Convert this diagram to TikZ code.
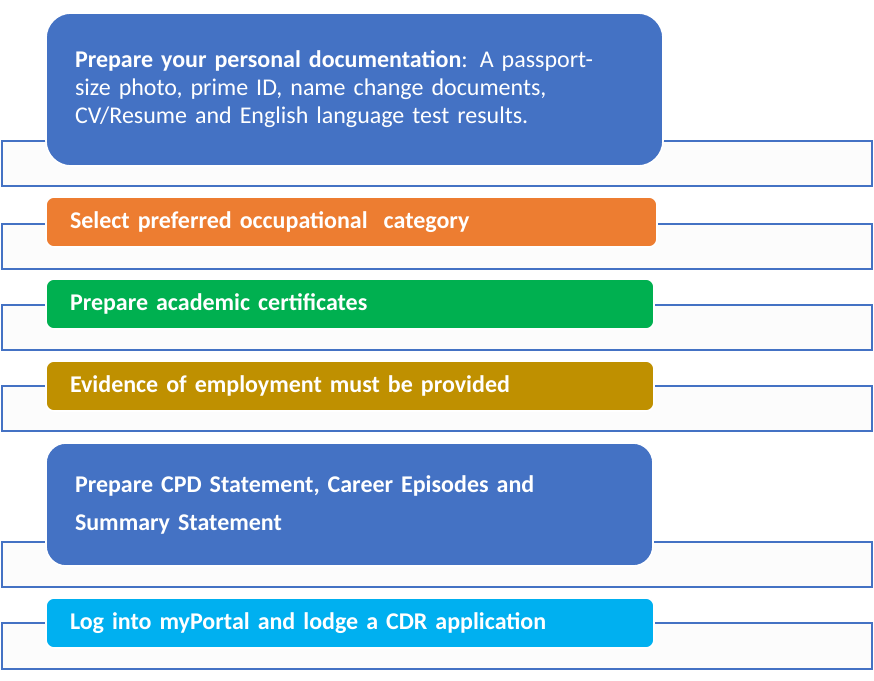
\documentclass[tikz,border=0pt]{standalone}
\usepackage{fontspec}
\setmainfont{Carlito}
\definecolor{stepblue}{HTML}{4472C4}
\definecolor{steporange}{HTML}{ED7D31}
\definecolor{stepgreen}{HTML}{00B050}
\definecolor{stepgold}{HTML}{BF9000}
\definecolor{stepcyan}{HTML}{00B0F0}
\definecolor{railfill}{HTML}{FCFCFC}
\tikzset{
  rail/.style = {draw = stepblue, fill = railfill, line width = 1.5pt,
    minimum width = 652.5pt, minimum height = 33.75pt, inner sep = 0pt},
  stepbox/.style = {draw = white, line width = 1.2pt, text = white,
    rounded corners = 6pt, minimum height = 37.5pt, inner ysep = 0pt,
    inner xsep = 18pt, align = left, font = \fontsize{18}{21}\selectfont\bfseries},
  bigbox/.style = {stepbox, fill = stepblue, inner xsep = 21.75pt}
}
\begin{document}
\begin{tikzpicture}[x = 0.75pt, y = -0.75pt]
	\useasboundingbox (0, 0) rectangle (874, 681);
	% Rails
	\node[rail] (r1) at (437, 163.5) {};
	\node[rail] (r2) at (437, 246.5) {};
	\node[rail] (r3) at (437, 327.5) {};
	\node[rail] (r4) at (437, 408.5) {};
	\node[rail] (r5) at (437, 564.5) {};
	\node[rail, minimum height = 34.5pt] (r6) at (437, 646) {};
	
	% Steps
	\node[bigbox, rounded corners = 18.75pt, minimum height = 114.75pt, text width = 419.25pt] (docs) at (354.5, 89.5)
		{Prepare your personal documentation\textmd{: A passport-}\\
		 \textmd{size photo, prime ID, name change documents,}\\
		 \textmd{CV/Resume and English language test results.}};
	\node[stepbox, fill = steporange, text width = 422.25pt] (cat) at (351.5, 222)
		{Select preferred occupational\ \ category};
	\node[stepbox, fill = stepgreen, text width = 420pt] (acad) at (350, 304)
		{Prepare academic certificates};
	\node[stepbox, fill = stepgold, text width = 420pt] (emp) at (350, 386)
		{Evidence of employment must be provided};
	\node[bigbox, rounded corners = 15pt, minimum height = 92.25pt, text width = 411.75pt,
		font = \fontsize{18}{28.5}\selectfont\bfseries] (cdr) at (349.5, 504.5)
		{Prepare CPD Statement, Career Episodes and\\ Summary Statement};
	\node[stepbox, fill = stepcyan, text width = 420pt] (lodge) at (350, 623)
		{Log into myPortal and lodge a CDR application};
\end{tikzpicture}
\end{document}
